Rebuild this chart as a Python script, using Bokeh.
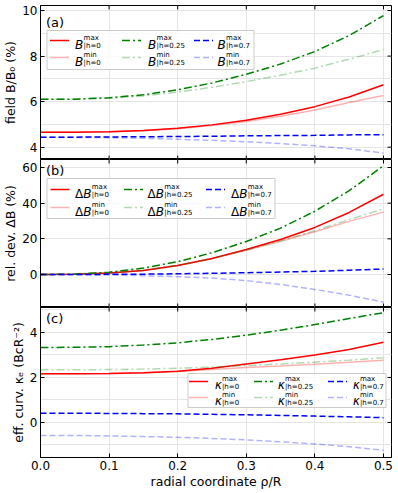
import math
from bokeh.plotting import figure
from bokeh.models import Range1d, FixedTicker, LinearAxis, Label, BoxAnnotation, Arrow
from bokeh.layouts import column
from bokeh.embed import file_html
from bokeh.resources import INLINE

# ---------------- data ----------------
rho = [0.0, 0.05, 0.1, 0.15, 0.2, 0.25, 0.3, 0.35, 0.4, 0.45, 0.5]

# (a) field B/B0 (%)
B_max_h0 = [4.66, 4.66, 4.68, 4.73, 4.83, 4.98, 5.18, 5.45, 5.78, 6.20, 6.74]
B_min_h0 = [4.66, 4.66, 4.68, 4.72, 4.81, 4.95, 5.13, 5.36, 5.63, 5.96, 6.27]
B_max_h025 = [6.10, 6.11, 6.17, 6.30, 6.52, 6.82, 7.20, 7.65, 8.20, 8.90, 9.78]
B_min_h025 = [6.10, 6.11, 6.15, 6.25, 6.42, 6.63, 6.88, 7.16, 7.47, 7.86, 8.29]
B_max_h07 = [4.44, 4.44, 4.45, 4.46, 4.47, 4.48, 4.50, 4.51, 4.52, 4.54, 4.55]
B_min_h07 = [4.44, 4.43, 4.42, 4.39, 4.35, 4.30, 4.24, 4.16, 4.06, 3.93, 3.74]

# (b) relative deviation dB (%)
dB_max_h0 = [0.0, 0.2, 0.9, 2.2, 5.0, 9.0, 14.0, 19.6, 26.4, 34.8, 45.0]
dB_min_h0 = [0.0, 0.2, 0.9, 2.2, 5.0, 8.9, 13.6, 18.6, 24.0, 29.8, 35.0]
dB_max_h025 = [0.0, 0.2, 1.3, 3.6, 7.2, 12.2, 18.5, 26.0, 35.5, 47.0, 61.0]
dB_min_h025 = [0.0, 0.2, 1.0, 2.5, 5.2, 9.0, 13.7, 18.9, 24.6, 30.8, 36.8]
dB_max_h07 = [0.0, 0.0, 0.1, 0.2, 0.4, 0.7, 1.0, 1.4, 1.8, 2.4, 3.1]
dB_min_h07 = [0.0, -0.1, -0.3, -0.7, -1.2, -2.0, -3.4, -5.6, -8.4, -11.6, -15.5]

# (c) effective curvature kappa_e
k_max_h0 = [2.16, 2.16, 2.17, 2.21, 2.28, 2.41, 2.60, 2.79, 3.00, 3.24, 3.56]
k_min_h0 = [2.16, 2.16, 2.17, 2.20, 2.26, 2.35, 2.44, 2.51, 2.59, 2.67, 2.76]
k_max_h025 = [3.33, 3.34, 3.37, 3.44, 3.54, 3.69, 3.88, 4.10, 4.35, 4.62, 4.88]
k_min_h025 = [2.34, 2.34, 2.35, 2.37, 2.41, 2.46, 2.53, 2.60, 2.68, 2.77, 2.87]
k_max_h07 = [0.41, 0.41, 0.40, 0.39, 0.38, 0.36, 0.34, 0.31, 0.28, 0.25, 0.21]
k_min_h07 = [-0.58, -0.58, -0.60, -0.63, -0.66, -0.71, -0.78, -0.86, -0.96, -1.08, -1.24]

h_labels = ["0", "0.25", "0.7"]
x_ticks = [0.0, 0.1, 0.2, 0.3, 0.4, 0.5]
x_tick_labels = ["0.0", "0.1", "0.2", "0.3", "0.4", "0.5"]
a_ticks = [4, 6, 8, 10]
a_tick_labels = ["4", "6", "8", "10"]
b_ticks = [0, 20, 40, 60]
b_tick_labels = ["0", "20", "40", "60"]
c_ticks = [0, 2, 4]
c_tick_labels = ["0", "2", "4"]

FONT = "DejaVu Sans"
COLORS = ["red", "green", "blue"]
DASHES = ["solid", "8 3 2 3", "6 3"]
LIGHT = 0.3
LW = 1.5
W = 398
LEFT = 40
RIGHT = 7
X_END = 0.5117


def style_axis(ax, ticks, labels):
    ax.ticker = FixedTicker(ticks=ticks)
    ax.major_label_overrides = {t: l for t, l in zip(ticks, labels)}
    ax.major_tick_in = 4
    ax.major_tick_out = 0
    ax.minor_tick_in = 0
    ax.minor_tick_out = 0
    ax.axis_line_color = "black"
    ax.major_tick_line_color = "black"
    ax.major_label_text_font = FONT
    ax.major_label_text_color = "black"
    ax.major_label_text_font_size = "12px"
    ax.major_label_standoff = 3
    ax.axis_label_text_font = FONT
    ax.axis_label_text_font_style = "normal"
    ax.axis_label_text_font_size = "12.5px"
    ax.axis_label_text_color = "black"
    ax.axis_label_standoff = 1


def make_panel(height, top, bottom, yr, yticks, ylabels, ylab, show_x):
    p = figure(width=W, height=height, x_range=Range1d(0, X_END), y_range=Range1d(*yr),
               output_backend="svg", toolbar_location=None, title=None,
               x_axis_location=None, y_axis_location=None,
               min_border_left=LEFT, min_border_right=RIGHT,
               min_border_top=top, min_border_bottom=bottom)
    p.outline_line_color = "black"
    p.background_fill_color = "white"
    p.border_fill_color = "white"
    ly = LinearAxis(axis_label=ylab)
    style_axis(ly, yticks, ylabels)
    p.add_layout(ly, "left")
    if show_x:
        bx = LinearAxis(axis_label="radial coordinate ρ/R")
        style_axis(bx, x_ticks, x_tick_labels)
        p.add_layout(bx, "below")
    else:
        # inward ticks on the bottom edge (labels only on the lowest panel)
        p.scatter(x_ticks, [yr[0]] * len(x_ticks), marker="dash", angle=math.pi / 2,
                  size=8, line_color="black", line_width=1)
    # inward ticks on the top and right edges
    p.scatter(x_ticks, [yr[1]] * len(x_ticks), marker="dash", angle=math.pi / 2,
              size=8, line_color="black", line_width=1)
    p.scatter([X_END] * len(yticks), yticks, marker="dash", size=8,
              line_color="black", line_width=1)
    return p


def draw_series(p, series):
    for i, (ymax, ymin) in enumerate(series):
        p.line(rho, ymax, line_color=COLORS[i], line_width=LW, line_dash=DASHES[i])
        p.line(rho, ymin, line_color=COLORS[i], line_width=LW, line_dash=DASHES[i],
               line_alpha=LIGHT)


def add_legend(p, box, rows, samples, texts, base, fs, sfs, offs):
    left, right, bot, top = box
    p.add_layout(BoxAnnotation(left=left, right=right, bottom=bot, top=top,
                               left_units="screen", right_units="screen",
                               bottom_units="screen", top_units="screen",
                               fill_color="white", fill_alpha=0.8,
                               line_color="#cccccc", line_width=1, line_alpha=1.0))
    b_off, sup_off, sub_off = offs
    for c in range(3):
        for r, tag in enumerate(["max", "min"]):
            yc = rows[r]
            p.add_layout(Arrow(end=None, x_start=samples[c], y_start=yc,
                               x_end=samples[c] + 19, y_end=yc,
                               start_units="screen", end_units="screen",
                               line_color=COLORS[c], line_width=LW,
                               line_dash=DASHES[c], line_alpha=1.0 if r == 0 else LIGHT))
            x = texts[c]
            for txt, st, w in base:
                p.add_layout(Label(x=x, y=yc + b_off, x_units="screen", y_units="screen",
                                   text=txt, text_font=FONT, text_font_style=st,
                                   text_font_size=fs, text_baseline="alphabetic",
                                   text_color="black"))
                x += w
            p.add_layout(Label(x=x, y=yc + sup_off, x_units="screen", y_units="screen",
                               text=tag, text_font=FONT, text_font_size=sfs,
                               text_baseline="alphabetic", text_color="black"))
            p.add_layout(Label(x=x, y=yc + sub_off, x_units="screen", y_units="screen",
                               text="|h=" + h_labels[c], text_font=FONT,
                               text_font_size=sfs, text_baseline="alphabetic",
                               text_color="black"))


def panel_label(p, txt, y):
    p.add_layout(Label(x=5.5, y=y, x_units="screen", y_units="screen", text=txt,
                       text_font=FONT, text_font_size="13px", text_baseline="middle",
                       text_color="black"))


# panel (a): frame 154 px tall
pa = make_panel(159, 5, 0, (3.46, 10.22), a_ticks, a_tick_labels, "field B/B₀ (%)", False)
draw_series(pa, [(B_max_h0, B_min_h0), (B_max_h025, B_min_h025), (B_max_h07, B_min_h07)])
add_legend(pa, (6.5, 213.5, 90, 129), [119, 102], [9.5, 81.5, 153.5], [34.5, 107.5, 177],
           [("B", "italic", 8.6)], "12px", "7px", (-4.3, 3.0, -5.8))
panel_label(pa, "(a)", 137)

# panel (b): frame 148 px tall
pb = make_panel(148, 0, 0, (-18.5, 64.5), b_ticks, b_tick_labels, "rel. dev. ΔB (%)", False)
draw_series(pb, [(dB_max_h0, dB_min_h0), (dB_max_h025, dB_min_h025), (dB_max_h07, dB_min_h07)])
add_legend(pb, (6.5, 234.5, 89, 129), [118, 100], [10, 83.5, 165.5], [34.5, 107, 190.5],
           [("Δ", "normal", 8.2), ("B", "italic", 8.6)], "12px", "7px", (-4.3, 3.0, -5.8))
panel_label(pb, "(b)", 137)

# panel (c): frame 150 px tall
pc = make_panel(186, 0, 36, (-1.56, 5.11), c_ticks, c_tick_labels, "eff. curv. κₑ (BcR⁻²)", True)
draw_series(pc, [(k_max_h0, k_min_h0), (k_max_h025, k_min_h025), (k_max_h07, k_min_h07)])
add_legend(pc, (147.5, 345.5, 50, 84), [76, 60], [148.5, 213.5, 287.5], [174.5, 237.5, 312.5],
           [("κ", "italic", 7.0)], "11.5px", "7px", (-3.2, 2.8, -5.0))
panel_label(pc, "(c)", 139)

layout = column(pa, pb, pc, spacing=0)
open("out.html", "w").write(file_html(layout, INLINE))
